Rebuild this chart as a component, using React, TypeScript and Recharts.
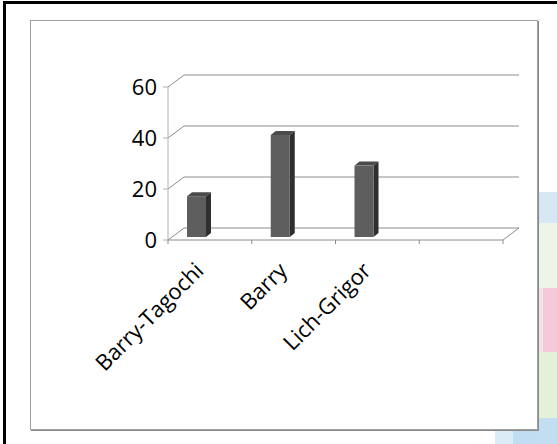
import { BarChart, Bar, XAxis, YAxis, CartesianGrid } from 'recharts';

const categories = ['Barry-Tagochi', 'Barry', 'Lich-Grigor', ''];
const counts: (number | null)[] = [16, 40, 28, null];
const yTicks = [0, 20, 40, 60];

const data = categories.map((name, i) => ({ name, value: counts[i] }));

const FONT = '"Open Sans", sans-serif';
const GRID = '#8c8c8c';
const AXIS = '#b0b0b0';

// offset of the back wall, gives the flat chart its 3D floor/wall look
const WALL_DX = 16;
const WALL_DY = -12;

// bars sit a little inside the floor, left of the band centre
const BAR_DX = -13;
const BAR_DY = -3;
const CAP_DX = 5;
const CAP_DY = -4;

const WallLine = (props: any) => {
  const { x1, x2, y1, horizontalPoints } = props;
  const floorY = horizontalPoints && horizontalPoints.length ? Math.max(...horizontalPoints) : props.y + props.height;
  const isFloor = Math.abs(y1 - floorY) < 1;
  const by = y1 + WALL_DY;
  return (
    <g>
      <line x1={x1} y1={y1} x2={x1 + WALL_DX} y2={by} stroke={GRID} />
      <line x1={x1 + WALL_DX} y1={by} x2={x2 + WALL_DX} y2={by} stroke={GRID} />
      {isFloor && <line x1={x2} y1={y1} x2={x2 + WALL_DX} y2={by} stroke={GRID} />}
    </g>
  );
};

const Box3D = (props: any) => {
  const { x, y, width, height } = props;
  if (!height || height <= 0) return null;
  const fx = x + BAR_DX;
  const fy = y + BAR_DY;
  const r = fx + width;
  return (
    <g>
      <polygon
        points={`${fx},${fy} ${fx + CAP_DX},${fy + CAP_DY} ${r + CAP_DX},${fy + CAP_DY} ${r},${fy}`}
        fill="#4b4b4b"
      />
      <polygon
        points={`${r},${fy} ${r + CAP_DX},${fy + CAP_DY} ${r + CAP_DX},${fy + height + CAP_DY} ${r},${fy + height}`}
        fill="#2f2f2f"
      />
      <rect x={fx} y={fy} width={width} height={height} fill="#5e5e5e" />
    </g>
  );
};

const CategoryTick = (props: any) => {
  const { x, y, payload, index, visibleTicksCount } = props;
  const half = payload.offset || 0;
  const last = index === visibleTicksCount - 1;
  const lx = x - 5;
  const ly = y + 32;
  return (
    <g>
      <line x1={x - half} y1={y} x2={x - half} y2={y + 4} stroke={GRID} />
      {last && <line x1={x + half} y1={y} x2={x + half} y2={y + 4} stroke={GRID} />}
      {payload.value && (
        <text
          x={lx}
          y={ly}
          textAnchor="end"
          transform={`rotate(-45 ${lx} ${ly})`}
          fontSize={22}
          fontFamily={FONT}
          fill="#000"
        >
          {payload.value}
        </text>
      )}
    </g>
  );
};

const patches = [
  { left: 539, top: 192, width: 18, height: 31, background: '#d8e7f4' },
  { left: 538, top: 223, width: 19, height: 65, background: '#eef5e8' },
  { left: 538, top: 288, width: 5, height: 64, background: '#efe4ea' },
  { left: 543, top: 288, width: 14, height: 64, background: '#f5c8da' },
  { left: 538, top: 352, width: 19, height: 66, background: '#e5f0db' },
  { left: 538, top: 418, width: 19, height: 26, background: '#c3def1' },
  { left: 495, top: 431, width: 43, height: 13, background: '#dcecf7' },
  { left: 513, top: 431, width: 25, height: 13, background: '#c1ddf1' },
];

export default function App() {
  return (
    <div style={{ position: 'fixed', left: 0, top: 0, width: 557, height: 444, background: '#fff', overflow: 'hidden' }}>
      {patches.map((p, i) => (
        <div key={i} style={{ position: 'absolute', ...p }} />
      ))}
      <div style={{ position: 'absolute', left: 3, top: 1, width: 554, height: 3, background: '#000' }} />
      <div style={{ position: 'absolute', left: 3, top: 1, width: 3, height: 443, background: '#000' }} />
      <div
        style={{
          position: 'absolute',
          left: 30,
          top: 20,
          width: 506,
          height: 408,
          border: '1px solid #a0a0a0',
          boxShadow: '1px 1px 0 #8a8a8a',
          background: '#fff',
        }}
      />
      <div style={{ position: 'absolute', left: 0, top: 0 }}>
        <BarChart width={557} height={444} data={data} margin={{ top: 87, right: 54, bottom: 174, left: 0 }}>
          <CartesianGrid horizontal={WallLine} vertical={false} />
          <YAxis
            width={168}
            domain={[0, 60]}
            ticks={yTicks}
            interval={0}
            axisLine={{ stroke: AXIS }}
            tickLine={{ stroke: AXIS }}
            tickSize={5}
            tickMargin={6}
            tick={{ fill: '#000', fontSize: 22, fontFamily: FONT }}
          />
          <XAxis
            dataKey="name"
            height={30}
            interval={0}
            axisLine={{ stroke: GRID }}
            tickLine={false}
            tickSize={0}
            tickMargin={0}
            tick={<CategoryTick />}
          />
          <Bar dataKey="value" barSize={19} shape={<Box3D />} isAnimationActive={false} />
        </BarChart>
      </div>
    </div>
  );
}
